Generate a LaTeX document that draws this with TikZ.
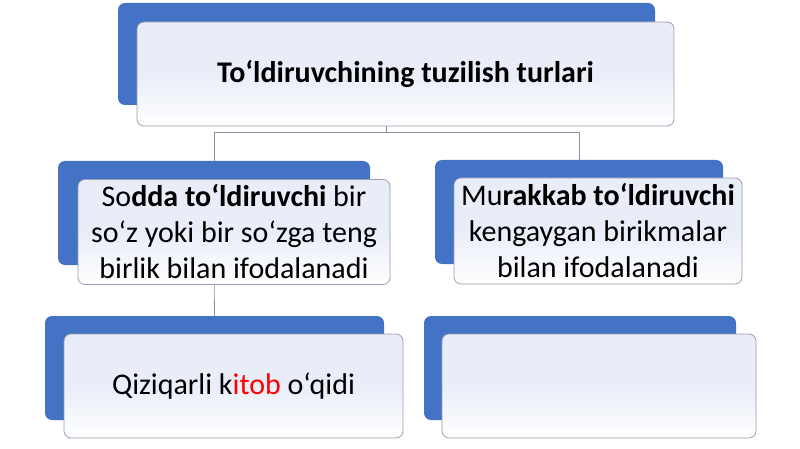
\documentclass[tikz,border=0pt]{standalone}
\usepackage{fontspec}
\setmainfont{Carlito}
\definecolor{smblue}{HTML}{4472C4}
\definecolor{smlight}{HTML}{E8EDF7}
\definecolor{smedge}{HTML}{9A9EB0}
\definecolor{smline}{HTML}{8A8E9E}
\definecolor{smred}{HTML}{FF0000}
\begin{document}
\begin{tikzpicture}[x=1pt,y=-1pt,line join=round,line cap=round,
		back/.style={fill=smblue,rounded corners=7pt,inner sep=0pt},
		front/.style={draw=smedge,line width=0.8pt,rounded corners=7pt,inner sep=0pt,
			top color=smlight,bottom color=white,middle color=smlight,align=center,text=black},
		link/.style={draw=smline,line width=0.8pt}]
	\useasboundingbox (0,0) rectangle (800,449);
	\def \bw{312};
	\def \bh{104};
	\node[back,minimum width=537pt,minimum height=102pt] (titleback) at (386.5,54) {};
	\node[back,minimum width=\bw pt,minimum height=\bh pt] (soddaback) at (214,213) {};
	\node[back,minimum width=288pt,minimum height=\bh pt] (murakkabback) at (579,212) {};
	\node[back,minimum width=339pt,minimum height=\bh pt] (misolback) at (214.5,368) {};
	\node[back,minimum width=\bw pt,minimum height=\bh pt] (boshback) at (580,368) {};
	\draw[link] (titleback.south) -- ++(0,27) coordinate (fork);
	\draw[link] (fork) -| (soddaback.north);
	\draw[link] (fork) -| (murakkabback.north);
	\draw[link] (soddaback.south) -- (misolback.north);
	\node[front,minimum width=537pt,minimum height=104pt,font=\fontsize{30}{36}\selectfont\bfseries] (title) at (405.5,74) {To‘ldiruvchining tuzilish turlari};
	\node[front,minimum width=\bw pt,minimum height=105pt,font=\fontsize{30}{36}\selectfont] (sodda) at (234,232) {So\textbf{dda to‘ldiruvchi} bir\\so‘z yoki bir so‘zga teng\\birlik bilan ifodalanadi};
	\node[front,minimum width=288pt,minimum height=106pt,font=\fontsize{30}{36}\selectfont] (murakkab) at (598,231) {Mu\textbf{rakkab to‘ldiruvchi}\\kengaygan birikmalar\\bilan ifodalanadi};
	\node[front,minimum width=339pt,minimum height=104pt,font=\fontsize{30}{36}\selectfont] (misol) at (233.5,386) {Qiziqarli k\textcolor{smred}{itob} o‘qidi};
	\node[front,minimum width=314pt,minimum height=104pt] (bosh) at (599,386) {};
\end{tikzpicture}
\end{document}
